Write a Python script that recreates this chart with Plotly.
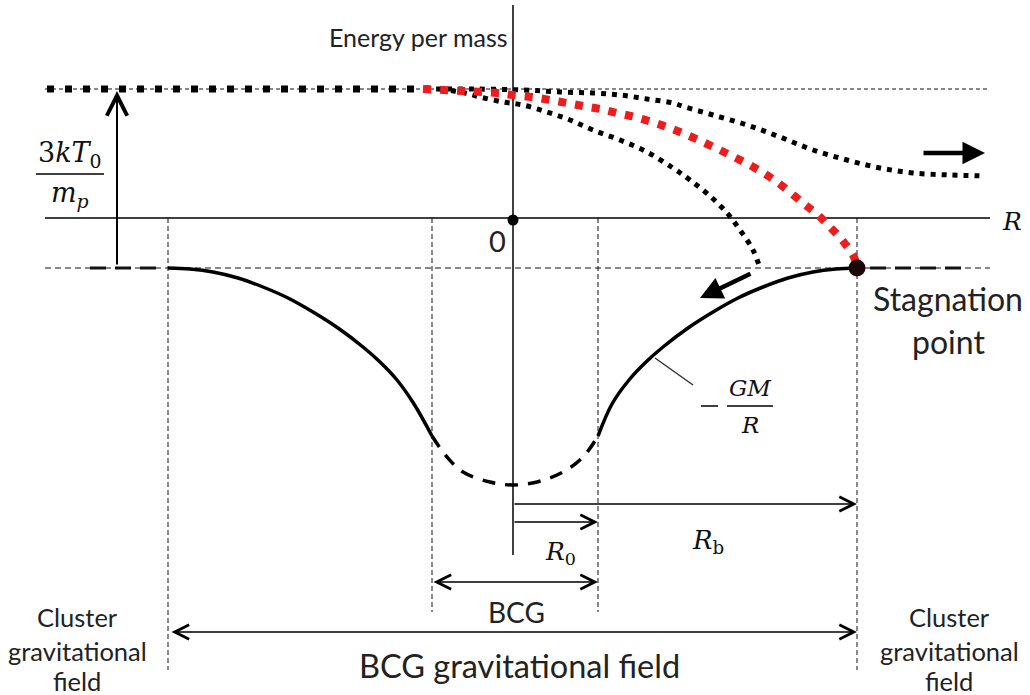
import plotly.graph_objects as go

# ---- data (diagram coordinates, pixel-like units, y grows downward) ----
R_AXIS_Y = 218
E_AXIS_X = 513
TOP_LEVEL_Y = 89
BASE_LEVEL_Y = 268
GUIDE_X = [168, 432, 598, 857]
GUIDE_BOTTOM = [670, 612, 612, 670]

pot_left_x = [168, 190, 213, 238, 263, 288, 313, 338, 363, 380, 397, 414, 432]
pot_left_y = [268, 269, 272, 278, 287, 298, 312, 328, 347, 362, 380, 404, 436]
pot_core_x = [432, 447, 463, 490, 513, 537, 563, 583, 598]
pot_core_y = [436, 457, 472, 482, 485, 482, 472, 457, 436]
pot_right_x = [598, 612, 629, 646, 663, 688, 713, 738, 763, 788, 813, 836, 857]
pot_right_y = [436, 404, 380, 362, 347, 328, 312, 298, 287, 278, 272, 269, 268]

red_x = [423, 463, 497, 513, 532, 550, 567, 583, 600, 617, 635, 652, 667, 680, 705, 730, 755, 777, 803, 818, 830, 842, 853, 857]
red_y = [89, 91, 93, 95, 97, 100, 103, 106, 109, 113, 117, 122, 127, 132, 143, 155, 168, 182, 203, 215, 227, 240, 255, 266]

out_x = [425, 470, 523, 560, 593, 620, 647, 673, 685, 713, 747, 780, 813, 847, 880, 913, 950, 985]
out_y = [89, 89, 90, 92, 93, 95, 99, 103, 107, 115, 125, 137, 150, 160, 168, 173, 175, 176]

in_x = [440, 465, 480, 503, 523, 547, 570, 593, 620, 647, 673, 690, 710, 727, 740, 753, 760]
in_y = [89, 93, 97, 102, 105, 112, 120, 130, 140, 152, 168, 180, 196, 213, 230, 250, 268]

fig = go.Figure()

def line(xs, ys, width=1.5, color="black", dash="solid", smooth=True):
    fig.add_trace(go.Scatter(x=xs, y=ys, mode="lines", hoverinfo="skip",
                             line=dict(color=color, width=width, dash=dash,
                                       shape="spline" if smooth else "linear",
                                       smoothing=1.0)))

# reference levels
line([45, 990], [TOP_LEVEL_Y, TOP_LEVEL_Y], 1, "#111", "4px,3px")
line([45, 990], [BASE_LEVEL_Y, BASE_LEVEL_Y], 1, "#111", "6px,4px")
line([90, 165], [BASE_LEVEL_Y, BASE_LEVEL_Y], 3, "#111", "16px,9px")
line([870, 970], [BASE_LEVEL_Y, BASE_LEVEL_Y], 3, "#111", "16px,9px")

# vertical guides
for gx, gb in zip(GUIDE_X, GUIDE_BOTTOM):
    line([gx, gx], [R_AXIS_Y, gb], 1, "#111", "5px,3px")

# axes
line([45, 990], [R_AXIS_Y, R_AXIS_Y], 1.5)
line([E_AXIS_X, E_AXIS_X], [5, 555], 1.5)

# thick dotted top level
line([47, 430], [TOP_LEVEL_Y, TOP_LEVEL_Y], 7, "black", "7px,11px")

# trajectories
line(out_x, out_y, 5, "black", "5px,6px")
line(in_x, in_y, 5, "black", "5px,6px")
line(red_x, red_y, 8, "#ee1c1c", "8px,9px")

# potential
line(pot_left_x, pot_left_y, 3.5)
line(pot_core_x, pot_core_y, 3.5, "black", "13px,10px")
line(pot_right_x, pot_right_y, 3.5)

# leader line and fraction bars
line([655, 693], [358, 385], 1.5, "#333")
line([36, 104], [174, 174], 1.5)
line([701, 718], [406, 406], 1.5)
line([727, 773], [406, 406], 1.5)

# points
fig.add_trace(go.Scatter(x=[E_AXIS_X], y=[220], mode="markers", hoverinfo="skip",
                         marker=dict(size=11, color="black")))
fig.add_trace(go.Scatter(x=[857], y=[268], mode="markers", hoverinfo="skip",
                         marker=dict(size=17, color="#1a0808")))

# arrows
def arrow(x0, y0, x1, y1, width=1.5, head=5, size=2.2, both=False):
    fig.add_annotation(x=x1, y=y1, ax=x0, ay=y0, xref="x", yref="y", axref="x", ayref="y",
                       text="", showarrow=True, arrowhead=head, arrowsize=size,
                       arrowwidth=width, arrowcolor="black",
                       arrowside="end+start" if both else "end",
                       startarrowhead=head, startarrowsize=size)

arrow(117, 266, 117, 91, 2, 5, 2.0)
arrow(922, 153, 985, 153, 4.5, 2, 1.0)
arrow(752, 273, 700, 298, 4.5, 2, 1.0)
arrow(513, 522, 598, 522, 1.5, 5, 1.9)
arrow(513, 504, 857, 504, 1.5, 5, 1.9)
arrow(432, 582, 598, 582, 1.5, 5, 1.9, both=True)
arrow(170, 632, 857, 632, 1.5, 5, 1.9, both=True)

# text
SANS = "Lato, 'Open Sans', sans-serif"
SERIF = "'DejaVu Serif', serif"

def text(x, y, s, size, family=SANS, color="#222"):
    fig.add_annotation(x=x, y=y, xref="x", yref="y", text=s, showarrow=False,
                       font=dict(family=family, size=size, color=color),
                       xanchor="center", yanchor="middle")

text(418, 37, "Energy per mass", 25)
text(1012, 221, "<i>R</i>", 25, SERIF, "#111")
text(497, 240, "0", 29)
text(70, 154, "3<i>kT</i><sub>0</sub>", 27, SERIF, "#111")
text(70, 194, "<i>m</i><sub><i>p</i></sub>", 27, SERIF, "#111")
text(750, 388, "<i>GM</i>", 23, SERIF, "#111")
text(750, 425, "<i>R</i>", 23, SERIF, "#111")
text(560, 553, "<i>R</i><sub>0</sub>", 25, SERIF, "#111")
text(708, 541, "<i>R</i><sub>b</sub>", 26, SERIF, "#111")
text(948, 298, "Stagnation", 32)
text(948, 341, "point", 32)
text(516, 612, "BCG", 28)
text(519, 665, "BCG gravitational field", 32.5)
for cx in [77, 949]:
    text(cx, 617, "Cluster", 25.5)
    text(cx, 651, "gravitational", 25.5)
    text(cx, 681, "field", 25.5)

fig.update_layout(
    width=1030, height=695, margin=dict(l=0, r=0, t=0, b=0),
    paper_bgcolor="white", plot_bgcolor="white", showlegend=False,
    xaxis=dict(range=[0, 1030], visible=False, fixedrange=True),
    yaxis=dict(range=[695, 0], visible=False, fixedrange=True),
)

fig.write_html("out.html")
